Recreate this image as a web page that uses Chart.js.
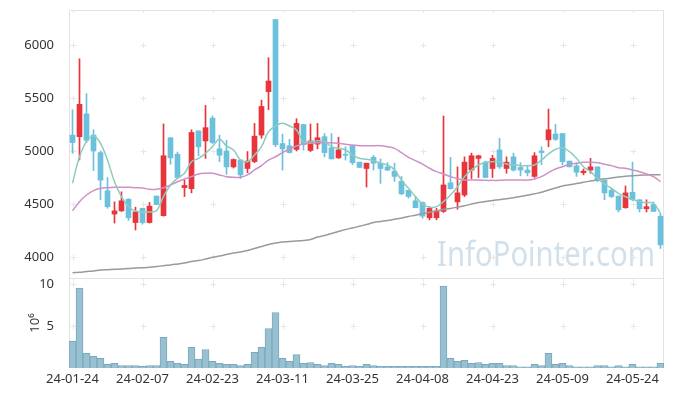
<!DOCTYPE html>
<html>
<head>
<meta charset="utf-8">
<script src="https://cdn.jsdelivr.net/npm/chart.js@4.4.1/dist/chart.umd.min.js"></script>
<style>
  html, body { margin: 0; padding: 0; background: #fff; }
  #wrap { width: 673px; height: 396px; }
</style>
</head>
<body>
<div id="wrap"><canvas id="stock" width="673" height="396"></canvas></div>
<script>
// trading days
var dates = [
  "24-01-24","24-01-25","24-01-26","24-01-29","24-01-30","24-01-31",
  "24-02-01","24-02-02","24-02-05","24-02-06","24-02-07","24-02-08","24-02-13","24-02-14","24-02-15",
  "24-02-16","24-02-19","24-02-20","24-02-21","24-02-22","24-02-23","24-02-26","24-02-27","24-02-28","24-02-29",
  "24-03-04","24-03-05","24-03-06","24-03-07","24-03-08","24-03-11","24-03-12","24-03-13","24-03-14","24-03-15",
  "24-03-18","24-03-19","24-03-20","24-03-21","24-03-22","24-03-25","24-03-26","24-03-27","24-03-28","24-03-29",
  "24-04-01","24-04-02","24-04-03","24-04-04","24-04-05","24-04-08","24-04-09","24-04-11","24-04-12","24-04-15",
  "24-04-16","24-04-17","24-04-18","24-04-19","24-04-22","24-04-23","24-04-24","24-04-25","24-04-26","24-04-29",
  "24-04-30","24-05-02","24-05-03","24-05-07","24-05-08","24-05-09","24-05-10","24-05-13","24-05-14","24-05-16",
  "24-05-17","24-05-20","24-05-21","24-05-22","24-05-23","24-05-24","24-05-27","24-05-28","24-05-29","24-05-30"
];

// 시가 / 고가 / 저가 / 종가
var openP = [5150,5135,5350,5150,4985,4625,4405,4435,4545,4325,4460,4325,4575,4390,5125,4970,4655,4645,5190,5095,
  5310,5020,5000,4850,4915,4835,4900,5150,5560,6240,5070,5050,5015,5250,5005,5065,5135,5030,4935,4965,
  5050,4895,4835,4940,4885,4850,4810,4715,4630,4530,4515,4370,4370,4430,4700,4520,4585,4820,4930,4895,
  4835,5010,4835,4945,4845,4820,4760,5000,5105,5160,5165,4905,4860,4795,4820,4850,4725,4630,4575,4465,
  4610,4540,4455,4495,4385];
var highP = [5390,5870,5540,5200,5000,4750,4520,4615,4550,4470,4460,4515,4575,5255,5125,4990,4725,5200,5190,5430,
  5330,5150,5100,4925,4920,4995,5260,5480,5880,6240,5160,5110,5305,5250,5255,5260,5165,5165,5130,5040,
  5050,4895,4885,4960,4925,4890,4885,4760,4630,4575,4520,4475,4460,5330,4940,4850,4945,4980,4960,4905,
  4960,5120,4945,4980,4890,4860,4985,5040,5395,5250,5165,4905,4890,4830,4930,4850,4725,4650,4575,4670,
  4895,4540,4540,4520,4410];
var lowP = [4980,4915,5080,4815,4540,4460,4320,4430,4345,4255,4310,4320,4495,4385,4875,4745,4570,4605,4955,4930,
  5070,4900,4780,4840,4740,4795,4890,5120,5390,5040,4820,4980,5000,5010,4995,5020,4945,4925,4930,4915,
  4870,4845,4660,4820,4695,4815,4715,4590,4555,4465,4365,4350,4350,4420,4640,4450,4570,4740,4750,4750,
  4750,4835,4790,4810,4765,4765,4750,4870,5040,5100,4870,4850,4760,4775,4790,4710,4540,4560,4425,4460,
  4530,4425,4425,4430,4080];
var closeP = [5080,5440,5100,5000,4725,4475,4435,4530,4370,4425,4325,4480,4495,4955,4935,4750,4675,5175,5040,5220,
  5080,4960,4850,4920,4775,4905,5140,5420,5660,5060,5020,4985,5260,5060,5095,5125,4985,4925,5010,4960,
  4890,4845,4885,4885,4835,4820,4760,4595,4570,4465,4385,4460,4435,4680,4645,4605,4895,4955,4955,4750,
  4930,4850,4895,4820,4820,4795,4955,4985,5200,5110,4900,4850,4800,4810,4850,4725,4605,4570,4445,4605,
  4540,4455,4475,4430,4115];

// 이동평균선
var ma5 = [4696,4946,5088,5142,5073,4915,4710,4569,4475,4434,4425,4425,4437,4569,4679,4742,4790,4899,4931,4978,5041,5110,
  5047,5009,4915,4899,4962,5041,5182,5236,5261,5236,5198,5088,5088,5097,5088,5041,5025,5009,4962,4931,
  4922,4909,4884,4868,4821,4726,4648,4569,4500,4469,4475,4522,4585,4663,4758,4821,4868,4893,4899,4899,
  4877,4868,4862,4862,4868,4915,4972,5016,5031,4994,4931,4852,4805,4742,4689,4648,4601,4569,4544,4522,4513,4507,4412];
var ma20 = [4437,4522,4585,4626,4648,4654,4657,4657,4657,4654,4651,4639,4639,4654,4679,4710,4736,4758,4783,4790,4790,4774,
  4758,4752,4752,4774,4821,4862,4915,4946,4984,5019,5047,5066,5072,5078,5078,5078,5072,5063,5057,5050,
  5050,5050,5050,5041,5025,4984,4940,4909,4877,4837,4805,4783,4758,4739,4726,4726,4726,4723,4723,4723,
  4726,4726,4726,4726,4736,4758,4796,4830,4852,4874,4884,4893,4893,4890,4874,4862,4843,4837,4821,4805,4783,4758,4710];
var maLong = [3852,3856,3863,3868,3877,3880,3884,3887,3891,3896,3899,3903,3910,3918,3925,3934,3943,3958,3967,3981,
  3997,4009,4024,4038,4047,4061,4080,4099,4118,4132,4142,4146,4151,4156,4165,4189,4203,4222,4241,4259,
  4274,4290,4307,4325,4335,4344,4356,4368,4382,4394,4408,4422,4434,4448,4458,4470,4483,4500,4514,4524,
  4533,4541,4549,4560,4571,4583,4596,4610,4632,4651,4670,4681,4693,4705,4717,4728,4738,4745,4755,4761,
  4766,4772,4774,4776,4776];

// 거래량 (백만주)
var volume = [3.2,9.5,1.75,1.4,1.15,0.45,0.55,0.3,0.3,0.3,0.2,0.3,0.3,
  3.65,0.8,0.55,0.45,2.45,1.05,2.2,0.8,0.55,0.45,0.45,0.3,0.45,
  1.85,2.45,4.7,6.6,1.15,0.8,1.6,0.55,0.65,0.45,0.3,0.55,0.45,
  0.2,0.3,0.2,0.45,0.3,0.2,0.2,0.2,0.2,0.2,0.2,0.2,0.2,0.2,
  9.75,1.15,0.8,0.9,0.55,0.65,0.45,0.55,0.55,0.3,0.3,0.15,0.15,
  0.45,0.3,1.75,0.45,0.55,0.3,0.15,0.15,0.15,0.3,0.3,0.15,0.3,0.15,0.45,0.15,0.15,0.15,0.55];

var priceTicks = [4000, 4500, 5000, 5500, 6000];
var volTicks = [5, 10];
var labelEvery = 10;

var UP = "#e8343b", DOWN = "#6bc0dc";
var candleColor = closeP.map(function (c, i) { return c >= openP[i] ? UP : DOWN; });
var tickFont = { family: "'Noto Sans'", size: 13 };

// y축 폭 고정, 라벨 여백 때문에 위쪽이 밀리지 않게
function fixLeftAxis(s) {
  s.width = 69;
  s.paddingTop = 0;
  s.paddingBottom = 0;
}

// 격자 대신 + 표시, 테두리, 워터마크
var decor = {
  id: "decor",
  beforeDatasetsDraw: function (chart) {
    var ctx = chart.ctx, a = chart.chartArea;
    var x = chart.scales.x, y = chart.scales.y, y2 = chart.scales.y2;
    ctx.save();
    ctx.font = '34px "Noto Sans"';
    ctx.fillStyle = "rgba(178,204,222,0.6)";
    ctx.textBaseline = "alphabetic";
    ctx.fillText("InfoPointer.com", a.right - 227, y.bottom - 12, 218);

    ctx.strokeStyle = "#e2e2e2";
    ctx.lineWidth = 1;
    ctx.beginPath();
    ctx.moveTo(a.left + 0.5, a.bottom);
    ctx.lineTo(a.left + 0.5, a.top + 0.5);
    ctx.lineTo(a.right - 0.5, a.top + 0.5);
    ctx.lineTo(a.right - 0.5, a.bottom);
    ctx.moveTo(a.left, Math.round(y.bottom) + 0.5);
    ctx.lineTo(a.right, Math.round(y.bottom) + 0.5);
    ctx.stroke();

    ctx.strokeStyle = "#e6e6e6";
    ctx.beginPath();
    var rows = [];
    priceTicks.forEach(function (v) { rows.push(Math.round(y.getPixelForValue(v)) + 0.5); });
    volTicks.forEach(function (v) { rows.push(Math.round(y2.getPixelForValue(v)) + 0.5); });
    for (var i = 0; i < dates.length; i += labelEvery) {
      var px = Math.round(x.getPixelForValue(i)) + 0.5;
      rows.forEach(function (py) {
        ctx.moveTo(px - 3, py); ctx.lineTo(px + 3, py);
        ctx.moveTo(px, py - 3); ctx.lineTo(px, py + 3);
      });
      ctx.moveTo(px, a.top); ctx.lineTo(px, a.top + 3);
      ctx.moveTo(px, y.bottom); ctx.lineTo(px, y.bottom + 3);
    }
    ctx.stroke();
    ctx.restore();
  }
};

var ctx = document.getElementById("stock");
var stockChart = new Chart(ctx, {
  type: "bar",
  data: {
    labels: dates,
    datasets: [
      { type: "line", data: ma5, yAxisID: "y", borderColor: "#8ccbbe", borderWidth: 1.5, pointRadius: 0, tension: 0.4 },
      { type: "line", data: ma20, yAxisID: "y", borderColor: "#cf90c6", borderWidth: 1.5, pointRadius: 0, tension: 0.4 },
      { type: "line", data: maLong, yAxisID: "y", borderColor: "#9a9a9a", borderWidth: 1.5, pointRadius: 0, tension: 0.4 },
      {
        data: openP.map(function (o, i) { return [o, closeP[i]]; }),
        yAxisID: "y", backgroundColor: candleColor, barThickness: 5, minBarLength: 1, grouped: false
      },
      {
        data: lowP.map(function (l, i) { return [l, highP[i]]; }),
        yAxisID: "y", backgroundColor: candleColor, barThickness: 1, grouped: false
      },
      {
        data: volume, yAxisID: "y2", backgroundColor: "#98c0d1", borderColor: "#7aa9bd", borderWidth: 1,
        barPercentage: 1, categoryPercentage: 1, grouped: false
      }
    ]
  },
  options: {
    responsive: false,
    animation: false,
    layout: { padding: { top: 10, right: 9, left: 0, bottom: 0 } },
    plugins: { legend: { display: false }, tooltip: { enabled: false } },
    scales: {
      x: {
        grid: { display: false, drawTicks: false },
        border: { display: false },
        ticks: {
          autoSkip: false, maxRotation: 0, padding: 3, color: "#333", font: tickFont,
          callback: function (v, i) { return i % labelEvery === 0 ? dates[i] : ""; }
        },
        afterFit: function (s) { s.height = 28; }
      },
      // 거래량 축 (아래)
      y2: {
        position: "left", stack: "main", stackWeight: 90,
        min: 0, max: 10.7,
        grid: { display: false },
        border: { display: false },
        afterBuildTicks: function (s) { s.ticks = volTicks.map(function (v) { return { value: v }; }); },
        ticks: { autoSkip: false, padding: 7, color: "#333", font: tickFont, callback: function (v) { return String(v); } },
        title: { display: true, text: "10⁶", color: "#333", padding: { top: 27 }, font: tickFont },
        afterFit: fixLeftAxis
      },
      // 가격 축 (위)
      y: {
        position: "left", stack: "main", stackWeight: 268,
        min: 3802, max: 6330,
        grid: { display: false },
        border: { display: false },
        afterBuildTicks: function (s) { s.ticks = priceTicks.map(function (v) { return { value: v }; }); },
        ticks: { autoSkip: false, padding: 7, color: "#333", font: tickFont, callback: function (v) { return String(v); } },
        afterFit: fixLeftAxis
      }
    }
  },
  plugins: [decor]
});
</script>
</body>
</html>
